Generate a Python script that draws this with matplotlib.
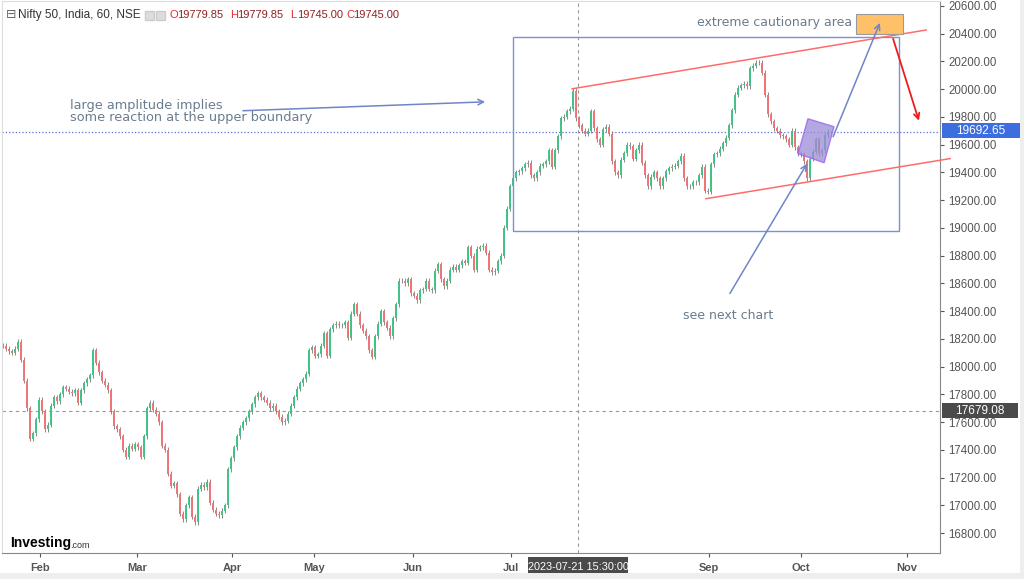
import numpy as np
import matplotlib.pyplot as plt
from matplotlib.patches import Rectangle, Polygon

closes = np.array([
    18150, 18130, 18110, 18100, 18130, 18180, 18050, 17900, 17700, 17480,
    17520, 17620, 17760, 17680, 17550, 17580, 17720, 17780, 17750, 17800,
    17850, 17840, 17820, 17810, 17830, 17740, 17830, 17880, 17910, 17940,
    18120, 18030, 17960, 17900, 17870, 17830, 17680, 17570, 17550, 17500,
    17400, 17350, 17430, 17410, 17440, 17420, 17350, 17500, 17700, 17740,
    17690, 17660, 17600, 17430, 17400, 17230, 17140, 17160, 17080, 16940,
    16900, 17000, 17060, 16920, 16880, 17120, 17150, 17130, 17170, 17020,
    16970, 16940, 16930, 16960, 17000, 17260, 17340, 17420, 17500, 17560,
    17600, 17630, 17680, 17730, 17780, 17810, 17780, 17760, 17740, 17700,
    17720, 17680, 17640, 17600, 17610, 17660, 17720, 17780, 17840, 17880,
    17910, 17950, 18120, 18140, 18080, 18090, 18150, 18240, 18080, 18270,
    18300, 18310, 18300, 18300, 18320, 18210, 18380, 18450, 18380, 18300,
    18260, 18220, 18120, 18070, 18220, 18310, 18400, 18320, 18280, 18220,
    18350, 18450, 18620, 18620, 18600, 18630, 18530, 18510, 18480, 18550,
    18560, 18620, 18560, 18550, 18690, 18740, 18630, 18580, 18620, 18700,
    18720, 18700, 18730, 18760, 18750, 18860, 18800, 18700, 18850, 18860,
    18870, 18820, 18700, 18680, 18690, 18760, 18800, 19000, 19140, 19300,
    19360, 19400, 19410, 19430, 19460, 19470, 19380, 19360, 19400, 19450,
    19460, 19480, 19560, 19440, 19560, 19660, 19790, 19800, 19840, 19860,
    19990, 19790, 19740, 19700, 19680, 19700, 19840, 19720, 19640, 19600,
    19710, 19730, 19680, 19480, 19400, 19380, 19490, 19540, 19600, 19590,
    19500, 19560, 19600, 19470, 19380, 19300, 19370, 19400, 19360, 19300,
    19360, 19410, 19430, 19440, 19450, 19480, 19520, 19360, 19300, 19300,
    19330, 19330, 19380, 19440, 19270, 19260, 19460, 19530, 19540, 19570,
    19610, 19650, 19740, 19850, 19960, 20010, 20030, 20040, 20020, 20150,
    20170, 20190, 20190, 20120, 19960, 19820, 19770, 19720, 19700, 19670,
    19660, 19640, 19600, 19700, 19580, 19540, 19530, 19480, 19360, 19500,
    19550, 19640, 19540, 19560, 19670, 19692.65,
])

month_labels = ['Feb', 'Mar', 'Apr', 'May', 'Jun', 'Jul', 'Sep', 'Oct', 'Nov']
month_pos = [12.3, 44.7, 76.3, 103.7, 136.7, 169.3, 235.3, 266.0, 301.3]
price_ticks = np.arange(16800, 20601, 200)
last_price = 19692.65
cross_price = 17679.08
cross_pos = 191.7
ohlc_letters = ['O', 'H', 'L', 'C']
ohlc_values = ['19779.85', '19779.85', '19745.00', '19745.00']

fig = plt.figure(figsize=(10.24, 5.79), dpi=100)
ax = fig.add_axes([2/1024, 1-553/579, 938/1024, 552/579])
ax.set_xlim(-0.33, 312.33)
ax.set_ylim(16657, 20636)

# candles
x = np.arange(len(closes))
opens = np.r_[closes[0], closes[:-1]]
up = closes >= opens
cols = np.where(up, '#3fc384', '#f07474')
hi = np.maximum(opens, closes) + 18
lo = np.minimum(opens, closes) - 18
ax.vlines(x, lo, hi, color='#777777', lw=0.6, zorder=2)
ax.vlines(x, opens, closes, color=cols, lw=1.4, zorder=3)

# price lines / crosshair
ax.axhline(last_price, color='#5b6fd8', ls=':', lw=0.9, zorder=1)
ax.axhline(cross_price, color='#999999', ls=(0, (3, 3)), lw=0.8, zorder=1)
ax.axvline(cross_pos, color='#999999', ls=(0, (3, 3)), lw=0.8, zorder=1)

# drawings
blue = '#7085c8'
ax.add_patch(Rectangle((170, 18981), 128.7, 1396, fill=False, ec='#7f8fd0', lw=1.0, zorder=4))
ax.plot([189.7, 307.7], [20003, 20427], color='#ff6b6b', lw=1.1, zorder=4, clip_on=False)
ax.plot([234.3, 315.7], [19211, 19500], color='#ff6b6b', lw=1.1, zorder=4, clip_on=False)
ax.add_patch(Polygon([(265, 19535), (268.3, 19787), (277, 19730), (273.7, 19470)],
                     closed=True, fc='#9b8bd6', ec='#9a5cf5', alpha=0.75, lw=1.0, zorder=5))
ax.add_patch(Rectangle((284.3, 20398), 15.7, 144, fc='#ffc06a', ec='#9a9a9a', lw=0.8, zorder=5))

arw = dict(arrowstyle='->', color=blue, lw=1.1, shrinkA=0, shrinkB=0)
ax.annotate('', xy=(160.7, 19909), xytext=(80, 19845), arrowprops=arw, zorder=6)
ax.annotate('', xy=(268, 19463), xytext=(242.3, 18528), arrowprops=arw, zorder=6)
ax.annotate('', xy=(292.3, 20478), xytext=(276.7, 19658), arrowprops=arw, zorder=6)
ax.annotate('', xy=(305.3, 19773), xytext=(296.7, 20363), zorder=6,
            arrowprops=dict(arrowstyle='->', color='#ee1c1c', lw=1.3, shrinkA=0, shrinkB=0))

tc = '#6b7c8e'
ax.text(22.3, 19837, 'large amplitude implies\nsome reaction at the upper boundary',
        color=tc, fontsize=9.3, va='center', ha='left', linespacing=0.92, family='DejaVu Sans')
ax.text(283, 20478, 'extreme cautionary area', color=tc, fontsize=9, va='center', ha='right',
        family='DejaVu Sans')
ax.text(241.7, 18370, 'see next chart', color=tc, fontsize=9, va='center', ha='center',
        family='DejaVu Sans')

# axes styling
ax.yaxis.tick_right()
ax.set_yticks(price_ticks)
ax.set_yticklabels([f'{v:.2f}' for v in price_ticks])
ax.set_xticks(month_pos)
ax.set_xticklabels(month_labels)
ax.tick_params(axis='y', length=3, pad=3, labelsize=8.3, colors='#555555', width=0.8)
ax.tick_params(axis='x', length=3, pad=4, labelsize=8, colors='#555555', width=0.8)
for lab in ax.get_xticklabels():
    lab.set_fontweight('bold')
    lab.set_family('Liberation Sans')
for lab in ax.get_yticklabels():
    lab.set_family('Liberation Sans')
for s in ['left', 'top']:
    ax.spines[s].set_color('#dddddd')
for s in ['right', 'bottom']:
    ax.spines[s].set_color('#888888')

# price tags on the scale
fig.patches.append(Rectangle((942/1024, 1-138/579), 78/1024, 15/579, transform=fig.transFigure,
                             fc='#3d6ee0', ec='none'))
fig.text(981/1024, 1-131/579, f'{last_price:.2f}', color='white', fontsize=8.5,
         ha='center', va='center', family='Liberation Sans')
fig.patches.append(Rectangle((942/1024, 1-418/579), 76/1024, 15/579, transform=fig.transFigure,
                             fc='#4a4a4a', ec='none'))
fig.text(980/1024, 1-411/579, f'{cross_price:.2f}', color='white', fontsize=8.5,
         ha='center', va='center', family='Liberation Sans')
fig.patches.append(Rectangle((528/1024, 1-577/579), 100/1024, 20/579, transform=fig.transFigure,
                             fc='#4a4a4a', ec='none'))
fig.text(578/1024, 1-567/579, '2023-07-21 15:30:00', color='white', fontsize=7.8,
         ha='center', va='center', family='Liberation Sans')
fig.patches.append(Rectangle((0, 0), 1, 6/579, transform=fig.transFigure, fc='#eeeeee', ec='none'))
fig.patches.append(Rectangle((1020/1024, 0), 4/1024, 1, transform=fig.transFigure, fc='#eeeeee', ec='none'))

# header
fig.text(18/1024, 1-15/579, 'Nifty 50, India, 60, NSE', color='#333333', fontsize=8.5,
         va='center', family='Liberation Sans')
fig.text(6/1024, 1-15/579, '\u229f', color='#666666', fontsize=9, va='center', family='DejaVu Sans')
fig.patches.append(Rectangle((145/1024, 1-20/579), 9/1024, 9/579, transform=fig.transFigure,
                             fc='#dddddd', ec='#cccccc'))
fig.patches.append(Rectangle((156/1024, 1-20/579), 9/1024, 9/579, transform=fig.transFigure,
                             fc='#dddddd', ec='#cccccc'))
for xh, letter, val in zip([170, 230, 290, 346], ohlc_letters, ohlc_values):
    fig.text(xh/1024, 1-15/579, letter, color='#e8292c', fontsize=8, va='center',
             family='Liberation Sans')
    fig.text((xh+7)/1024, 1-15/579, val, color='#8b2323', fontsize=8, va='center',
             family='Liberation Sans')

# logo
fig.text(10/1024, 1-543/579, 'Investing', color='black', fontsize=10, fontweight='bold',
         va='center', family='Liberation Sans')
fig.text(70/1024, 1-545/579, '.com', color='#333333', fontsize=6.5, va='center',
         family='Liberation Sans')

fig.savefig('out.png', dpi=100)
